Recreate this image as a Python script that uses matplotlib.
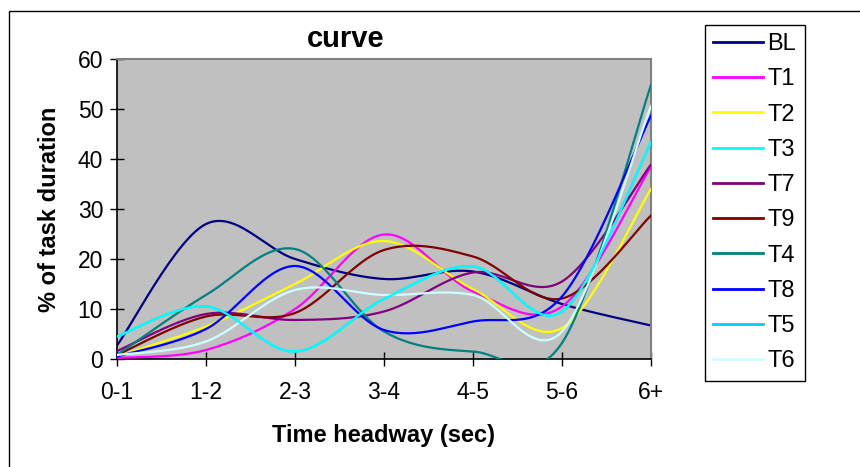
import numpy as np
import matplotlib
matplotlib.use('Agg')
import matplotlib.pyplot as plt
from matplotlib.patches import Rectangle

plt.rcParams['font.family'] = ['Liberation Sans', 'DejaVu Sans']

categorias = ['0-1', '1-2', '2-3', '3-4', '4-5', '5-6', '6+']

BL = [2.7, 27.0, 20.0, 16.0, 17.5, 11.0, 6.7]
T1 = [0.2, 1.8, 10.0, 24.9, 13.5, 10.5, 38.5]
T2 = [0.6, 6.5, 15.0, 23.6, 14.0, 6.2, 34.0]
T3 = [4.5, 10.5, 1.5, 12.0, 18.5, 9.5, 43.3]
T7 = [1.6, 9.0, 7.8, 9.5, 17.3, 15.5, 38.9]
T9 = [0.8, 8.5, 9.2, 21.8, 20.5, 12.1, 28.7]
T4 = [0.8, 12.8, 22.0, 5.5, 1.5, 3.2, 54.8]
T8 = [0.5, 6.0, 18.6, 5.8, 7.5, 12.5, 48.7]
T5 = [4.5, 10.5, 1.5, 12.0, 18.5, 9.5, 43.3]
T6 = [0.8, 3.5, 13.8, 12.8, 12.8, 5.5, 50.6]

series = ['BL', 'T1', 'T2', 'T3', 'T7', 'T9', 'T4', 'T8', 'T5', 'T6']
valores = [BL, T1, T2, T3, T7, T9, T4, T8, T5, T6]
cores = ['#000080', '#FF00FF', '#FFFF00', '#00FFFF', '#800080',
         '#800000', '#008080', '#0000FF', '#00CCFF', '#CCFFFF']
# T5 fica por baixo da T3 (so aparece a linha ciano)
ordem_z = [2, 3, 4, 12, 6, 7, 8, 9, 5, 11]


def suavizar(y, passos=30):
    # curva tipo Excel (Catmull-Rom em Bezier)
    y = np.asarray(y, dtype=float)
    x = np.arange(len(y), dtype=float)
    n = len(y)
    xs, ys = [], []
    for i in range(n - 1):
        i0 = max(i - 1, 0)
        i3 = min(i + 2, n - 1)
        p0 = np.array([x[i], y[i]])
        p3 = np.array([x[i + 1], y[i + 1]])
        c1 = p0 + (p3 - np.array([x[i0], y[i0]])) / 6
        c2 = p3 - (np.array([x[i3], y[i3]]) - p0) / 6
        t = np.linspace(0, 1, passos)[:, None]
        b = ((1 - t) ** 3) * p0 + 3 * ((1 - t) ** 2) * t * c1 + 3 * (1 - t) * t ** 2 * c2 + t ** 3 * p3
        xs.extend(b[:, 0])
        ys.extend(b[:, 1])
    return np.array(xs), np.array(ys)


fig = plt.figure(figsize=(8.6, 4.67), dpi=100)
W, H = 860, 467

# moldura externa
fig.patches.append(Rectangle((9 / W, -0.2), 2.0, 1.2 - 11 / H,
                             transform=fig.transFigure, fill=False,
                             edgecolor='black', linewidth=1.0))

ax = fig.add_axes([117 / W, (H - 359) / H, (651 - 117) / W, 300 / H])
ax.set_facecolor('#C0C0C0')

for nome, v, c, z in zip(series, valores, cores, ordem_z):
    xs, ys = suavizar(v)
    ax.plot(xs, ys, color=c, linewidth=1.6, label=nome, zorder=z)

ax.set_xlim(0, 6)
ax.set_ylim(0, 60)
ax.set_xticks(range(len(categorias)))
ax.set_xticklabels(categorias)
ax.set_yticks([0, 10, 20, 30, 40, 50, 60])
ax.tick_params(axis='both', direction='inout', length=10, width=1, labelsize=16.5, colors='black')
ax.tick_params(axis='x', pad=11)
ax.tick_params(axis='y', pad=5)

for s in ['left', 'bottom']:
    ax.spines[s].set_color('black')
    ax.spines[s].set_linewidth(1.2)
for s in ['top', 'right']:
    ax.spines[s].set_color('#808080')
    ax.spines[s].set_linewidth(1.5)

ax.set_xlabel('Time headway (sec)', fontsize=17, fontweight='bold', labelpad=14)
ax.set_ylabel('% of task duration', fontsize=17, fontweight='bold', labelpad=12)

fig.text(346 / W, 1 - 39 / H, 'curve', fontsize=21, fontweight='bold', ha='center', va='center')

handles, labels = ax.get_legend_handles_labels()
leg = ax.legend(handles, labels, loc='upper left', bbox_to_anchor=(705 / W, 1 - 25 / H),
                bbox_transform=fig.transFigure, borderaxespad=0, fontsize=17,
                frameon=True, fancybox=False, edgecolor='black', framealpha=1,
                handlelength=2.1, handletextpad=0.2, labelspacing=0.56, borderpad=0.35)
leg.get_frame().set_linewidth(1.0)
for linha in leg.get_lines():
    linha.set_linewidth(2.0)

fig.savefig('out.png', dpi=100)
